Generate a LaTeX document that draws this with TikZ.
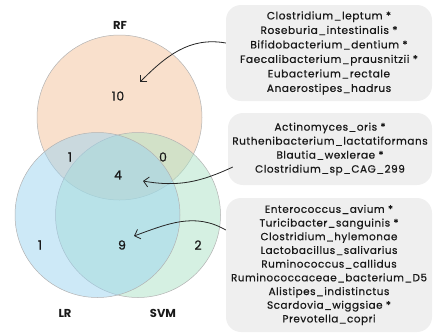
\documentclass[tikz,border=0pt]{standalone}
\usepackage{fontspec}
\setmainfont{Poppins}
\newfontfamily\listfont{Poppins}[LetterSpace=5, FakeBold=0.6]
\usetikzlibrary{arrows.meta}
\definecolor{rfcol}{HTML}{F3C29A}
\definecolor{lrcol}{HTML}{9CD3F0}
\definecolor{svmcol}{HTML}{ABE2C5}
\definecolor{listgray}{HTML}{EFEFEF}
\begin{document}
\begin{tikzpicture}[x=1pt, y=-1pt,
  set/.style = {circle, draw=black!30, line width=0.5pt, minimum size=165pt, inner sep=0pt, fill opacity=0.5},
  num/.style = {font=\listfont\fontsize{12.5}{14}\selectfont, text=black!90},
  lbl/.style = {font=\bfseries\fontsize{11.5}{13}\selectfont, text=black!90},
  list/.style = {fill=listgray, rounded corners=15pt, align=center, inner sep=0pt, text=black!90},
  arr/.style = {-{Straight Barb[length=5pt, width=10pt]}, line width=0.8pt, black!85}]
\useasboundingbox (0,0) rectangle (433,333);
% the three sets
\node[set, fill=rfcol] (rf) at (119.5,117.5) {};
\node[set, fill=svmcol] (svm) at (138,215) {};
\node[set, fill=lrcol] (lr) at (97.5,215) {};
\node[lbl] (rflbl) at (120,25) {RF};
\node[lbl] (lrlbl) at (65,313) {LR};
\node[lbl] (svmlbl) at (163,313) {SVM};
% counts
\node[num] (n10) at (118,96) {10};
\node[num] (n1a) at (70,157) {1};
\node[num] (n0) at (163,157) {0};
\node[num] (n4) at (118,175) {4};
\node[num] (n1b) at (40,245) {1};
\node[num] (n9) at (122,245) {9};
\node[num] (n2) at (198,245) {2};
% feature lists
\node[list, minimum width=206pt, minimum height=96pt, font=\listfont\fontsize{10.6}{14.5}\selectfont] (l1) at (329,53)
  {Clostridium\_leptum *\\Roseburia\_intestinalis *\\Bifidobacterium\_dentium *\\Faecalibacterium\_prausnitzii *\\Eubacterium\_rectale\\Anaerostipes\_hadrus};
\node[list, minimum width=204pt, minimum height=72pt, font=\listfont\fontsize{10.5}{14}\selectfont] (l2) at (330,149)
  {Actinomyces\_oris *\\Ruthenibacterium\_lactatiformans\\Blautia\_wexlerae *\\Clostridium\_sp\_CAG\_299};
\node[list, minimum width=206pt, minimum height=134pt, font=\listfont\fontsize{10.4}{13.7}\selectfont] (l3) at (329,265)
  {Enterococcus\_avium *\\Turicibacter\_sanguinis *\\Clostridium\_hylemonae\\Lactobacillus\_salivarius\\Ruminococcus\_callidus\\Ruminococcaceae\_bacterium\_D5\\Alistipes\_indistinctus\\Scardovia\_wiggsiae *\\Prevotella\_copri};
% arrows
\draw[arr] ([yshift=10pt]l1.west) to[out=170, in=45] ([xshift=22pt, yshift=14pt]n10.center);
\draw[arr] ([xshift=5pt, yshift=-18pt]l2.west) to[out=205, in=-10] ([xshift=25pt, yshift=-6pt]n4.center);
\draw[arr] ([yshift=35pt]l3.west) to[out=150, in=20] ([xshift=12pt, yshift=9pt]n9.center);
\end{tikzpicture}
\end{document}
